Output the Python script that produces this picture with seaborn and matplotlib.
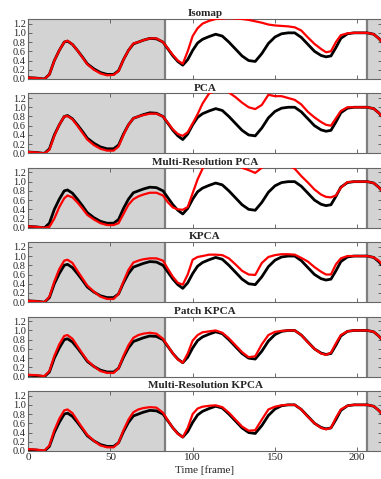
import numpy as np
import pandas as pd
import matplotlib
matplotlib.use("Agg")
import matplotlib.pyplot as plt
import seaborn as sns

frames = [0, 5, 10, 13, 16, 19, 22, 24, 27, 30, 33, 36, 40, 44, 48, 52, 55, 58, 61, 64, 67, 70, 74, 78, 82,
          85, 88, 91, 94, 97, 100, 103, 106, 110, 114, 118, 122, 126, 130, 134, 138, 142, 146, 150, 154,
          158, 162, 166, 170, 174, 178, 181, 184, 187, 190, 194, 198, 202, 206, 210, 213, 215]

truth = [0.03, 0.02, 0.0, 0.1, 0.4, 0.62, 0.8, 0.82, 0.75, 0.62, 0.48, 0.33, 0.22, 0.14, 0.1, 0.1, 0.18, 0.42, 0.62,
         0.76, 0.8, 0.84, 0.88, 0.87, 0.8, 0.65, 0.5, 0.38, 0.3, 0.42, 0.62, 0.78, 0.86, 0.92, 0.97, 0.93, 0.8,
         0.65, 0.5, 0.4, 0.38, 0.55, 0.77, 0.91, 0.98, 1.0, 1.0, 0.9, 0.75, 0.6, 0.51, 0.48, 0.5, 0.68, 0.88,
         0.98, 1.0, 1.0, 1.0, 0.97, 0.88, 0.8]

isomap = [0.03, 0.02, 0.0, 0.1, 0.4, 0.62, 0.8, 0.83, 0.75, 0.62, 0.47, 0.32, 0.2, 0.12, 0.08, 0.09, 0.17, 0.42,
          0.62, 0.77, 0.8, 0.84, 0.88, 0.88, 0.8, 0.66, 0.52, 0.4, 0.33, 0.6, 0.93, 1.1, 1.2, 1.26, 1.3, 1.31, 1.32,
          1.31, 1.3, 1.28, 1.25, 1.22, 1.18, 1.16, 1.15, 1.14, 1.12, 1.05, 0.9, 0.76, 0.65, 0.58, 0.6, 0.8, 0.95,
          0.99, 1.0, 1.0, 1.0, 0.97, 0.88, 0.8]

pca = [0.03, 0.02, 0.0, 0.08, 0.38, 0.62, 0.8, 0.81, 0.74, 0.6, 0.45, 0.3, 0.18, 0.1, 0.06, 0.06, 0.15, 0.4, 0.62,
       0.76, 0.8, 0.83, 0.86, 0.86, 0.8, 0.66, 0.52, 0.42, 0.38, 0.46, 0.65, 0.85, 1.08, 1.3, 1.35, 1.4, 1.32, 1.22,
       1.1, 1.0, 0.96, 1.05, 1.27, 1.24, 1.24, 1.2, 1.16, 1.06, 0.9, 0.78, 0.68, 0.62, 0.6, 0.76, 0.92, 1.0, 1.0,
       1.0, 1.0, 0.97, 0.88, 0.8]

mr_pca = [0.03, 0.02, 0.0, 0.02, 0.2, 0.45, 0.64, 0.7, 0.66, 0.55, 0.42, 0.28, 0.18, 0.1, 0.06, 0.06, 0.1, 0.3, 0.5,
          0.62, 0.68, 0.72, 0.76, 0.76, 0.7, 0.55, 0.44, 0.4, 0.39, 0.45, 0.75, 1.05, 1.28, 1.45, 1.5, 1.5, 1.45,
          1.38, 1.3, 1.25, 1.19, 1.3, 1.4, 1.45, 1.4, 1.35, 1.28, 1.12, 0.98, 0.83, 0.72, 0.67, 0.66, 0.7, 0.87,
          0.99, 1.0, 1.0, 1.0, 0.97, 0.88, 0.8]

kpca = [0.03, 0.02, 0.0, 0.12, 0.45, 0.72, 0.9, 0.92, 0.85, 0.68, 0.52, 0.36, 0.23, 0.12, 0.07, 0.07, 0.18, 0.45,
        0.7, 0.86, 0.9, 0.93, 0.95, 0.95, 0.9, 0.72, 0.55, 0.42, 0.38, 0.6, 0.92, 0.98, 1.0, 1.03, 1.03, 1.02, 0.95,
        0.82, 0.68, 0.6, 0.59, 0.85, 0.98, 1.02, 1.04, 1.04, 1.03, 0.96, 0.88, 0.76, 0.66, 0.6, 0.6, 0.82, 0.95,
        1.0, 1.0, 1.0, 1.0, 0.97, 0.9, 0.82]

patch_kpca = [0.04, 0.03, 0.01, 0.12, 0.45, 0.7, 0.88, 0.9, 0.82, 0.66, 0.5, 0.35, 0.22, 0.12, 0.08, 0.08, 0.18,
              0.45, 0.68, 0.84, 0.9, 0.93, 0.95, 0.93, 0.82, 0.66, 0.5, 0.37, 0.3, 0.5, 0.78, 0.9, 0.96, 0.98, 1.0,
              0.95, 0.83, 0.68, 0.53, 0.42, 0.44, 0.7, 0.9, 0.97, 0.99, 1.0, 1.0, 0.9, 0.74, 0.6, 0.5, 0.47,
              0.52, 0.72, 0.9, 0.98, 1.0, 1.0, 1.0, 0.97, 0.88, 0.8]

mr_kpca = [0.04, 0.03, 0.01, 0.12, 0.45, 0.7, 0.88, 0.9, 0.82, 0.66, 0.5, 0.35, 0.22, 0.12, 0.08, 0.08, 0.18,
           0.45, 0.68, 0.84, 0.9, 0.93, 0.95, 0.94, 0.83, 0.66, 0.5, 0.37, 0.3, 0.5, 0.8, 0.92, 0.96, 0.98, 0.99,
           0.95, 0.83, 0.68, 0.53, 0.44, 0.45, 0.68, 0.9, 0.96, 0.99, 1.0, 1.0, 0.9, 0.74, 0.6, 0.5, 0.47,
           0.5, 0.72, 0.9, 0.98, 1.0, 1.0, 1.0, 0.97, 0.88, 0.8]

titles = ["Isomap", "PCA", "Multi-Resolution PCA", "KPCA", "Patch KPCA", "Multi-Resolution KPCA"]
estimates = [isomap, pca, mr_pca, kpca, patch_kpca, mr_kpca]
shaded = [(0, 83), (206, 215)]
xticks = [0, 50, 100, 150, 200]
yticks = [0.0, 0.2, 0.4, 0.6, 0.8, 1.0, 1.2]

sns.set_style("ticks")
plt.rcParams['font.family'] = ['Liberation Serif', 'DejaVu Serif']
plt.rcParams['xtick.direction'] = 'in'
plt.rcParams['ytick.direction'] = 'in'

W, H = 381, 479
fig = plt.figure(figsize=(W / 100, H / 100), dpi=100)

left_px = 28
for i, (title, est) in enumerate(zip(titles, estimates)):
    top_px = 19 + 74.4 * i
    h_px = 60
    ax = fig.add_axes([left_px / W, 1 - (top_px + h_px) / H, (W - left_px + 1) / W, h_px / H])
    for a, b in shaded:
        ax.axvspan(a, b, color='#d3d3d3', lw=0, zorder=0)
    for xv in (shaded[0][1], shaded[1][0]):
        ax.axvline(xv, color='#7f7f7f', lw=1.6, zorder=1)
    df = pd.DataFrame({"frame": frames, "truth": truth, "est": est})
    sns.lineplot(data=df, x="frame", y="truth", ax=ax, color='black', lw=2.0, zorder=3)
    sns.lineplot(data=df, x="frame", y="est", ax=ax, color='#ff0000', lw=1.6, zorder=4)
    ax.set_xlim(0, 215)
    ax.set_ylim(0, 1.3)
    ax.set_xticks(xticks)
    ax.set_yticks(yticks)
    ax.set_yticklabels([f"{v:.1f}" for v in yticks], fontsize=7.5)
    ax.tick_params(axis='both', which='both', top=True, right=True, length=3, width=0.6,
                   color='#555555', pad=1.5)
    ax.set_ylabel("")
    if i < len(titles) - 1:
        ax.set_xticklabels([])
        ax.set_xlabel("")
    else:
        ax.set_xticklabels([str(v) for v in xticks], fontsize=8)
        ax.set_xlabel("Time [frame]", fontsize=8, labelpad=2)
    for s in ax.spines.values():
        s.set_color('#666666')
        s.set_linewidth(0.8)
    ax.set_title(title, fontsize=8, fontweight='bold', pad=2)

fig.savefig("out.png", dpi=100)
